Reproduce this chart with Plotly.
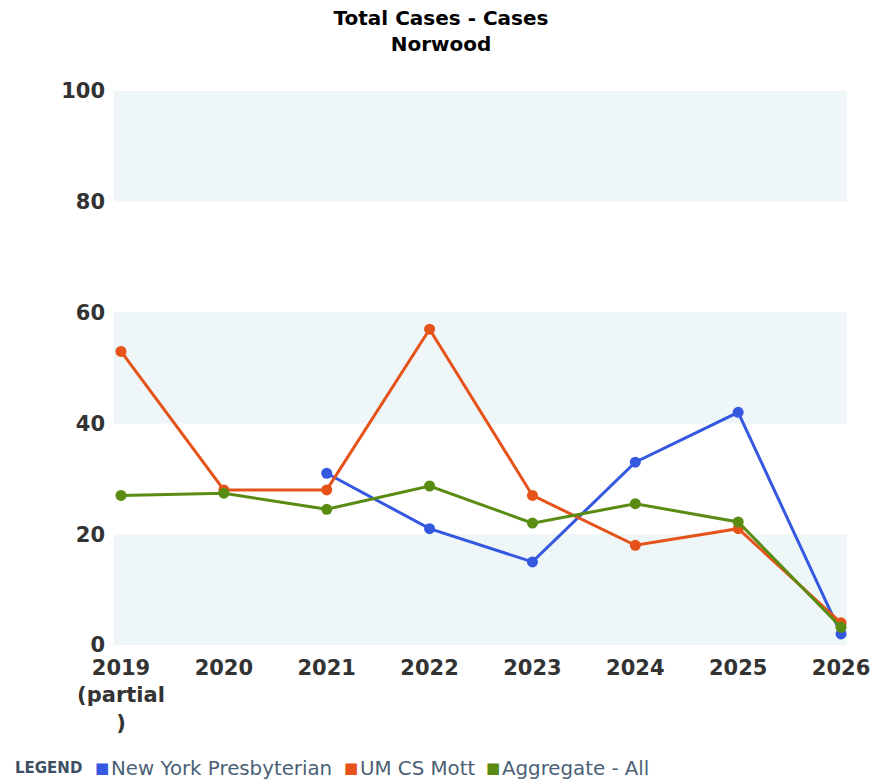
import plotly.graph_objects as go

categories = ["2019<br>(partial<br>)", "2020", "2021", "2022", "2023", "2024", "2025", "2026"]
nyp = [None, None, 31, 21, 15, 33, 42, 2]
mott = [53, 28, 28, 57, 27, 18, 21, 4]
aggregate = [27, 27.4, 24.5, 28.7, 22, 25.5, 22.2, 3.2]
y_ticks = [0, 20, 40, 60, 80, 100]

series = [
    ("New York Presbyterian", nyp, "#3558e0"),
    ("UM CS Mott", mott, "#e5531b"),
    ("Aggregate - All", aggregate, "#5a8c14"),
]

W, H = 882, 781
L, R, T, B = 114, 29, 91, 136
plot_w = W - L - R
plot_h = H - T - B

fig = go.Figure()
for name, vals, color in series:
    fig.add_trace(go.Scatter(
        x=categories, y=vals, mode="lines+markers", name=name,
        line=dict(color=color, width=3), marker=dict(color=color, size=11),
        showlegend=False, connectgaps=False,
    ))

bands = [(0, 20), (40, 60), (80, 100)]
for lo, hi in bands:
    fig.add_shape(type="rect", xref="paper", yref="y", x0=0, x1=1, y0=lo, y1=hi,
                  fillcolor="#eef6f8", line=dict(width=0), layer="below")

# custom legend row
def px_to_paper(px):
    return (px - L) / plot_w

legend_y = (H - B - 768) / plot_h
fig.add_annotation(xref="paper", yref="paper", x=px_to_paper(12), y=legend_y,
                   xanchor="left", yanchor="middle", showarrow=False,
                   text="<b>LEGEND</b>", font=dict(size=15, color="#3d4f63", family="DejaVu Sans"))
legend_x = [96, 347, 490]
for (name, _, color), lx in zip(series, legend_x):
    fig.add_annotation(xref="paper", yref="paper", x=px_to_paper(lx - 3), y=legend_y,
                       xanchor="left", yanchor="middle", showarrow=False,
                       text="■", font=dict(size=15, color=color, family="DejaVu Sans"))
    fig.add_annotation(xref="paper", yref="paper", x=px_to_paper(lx + 13), y=legend_y,
                       xanchor="left", yanchor="middle", showarrow=False,
                       text=name, font=dict(size=19.8, color="#4a5f76", family="DejaVu Sans"))

fig.update_layout(
    width=W, height=H,
    margin=dict(l=L, r=R, t=T, b=B),
    paper_bgcolor="white", plot_bgcolor="white",
    font=dict(family="DejaVu Sans", color="#333333"),
    title=dict(text="<b>Total Cases - Cases<br>Norwood</b>", x=0.5, xanchor="center",
               yref="container", y=1 - 25 / H, yanchor="middle",
               font=dict(size=20, color="#000000", family="DejaVu Sans")),
    xaxis=dict(type="category", range=[-0.068, 7.058], showgrid=False, zeroline=False,
               showline=False, ticks="", ticklabelstandoff=8,
               tickfont=dict(size=21, color="#333333", family="DejaVu Sans", weight="bold")),
    yaxis=dict(range=[0, 100], tickvals=y_ticks, showgrid=False, zeroline=False,
               showline=False, ticks="", ticklabelstandoff=8,
               tickfont=dict(size=21, color="#333333", family="DejaVu Sans", weight="bold")),
    showlegend=False,
)

fig.write_html(
    "out.html",
    config={"displayModeBar": False},
    post_script="document.body.style.margin='0';document.body.style.overflow='hidden';",
)
